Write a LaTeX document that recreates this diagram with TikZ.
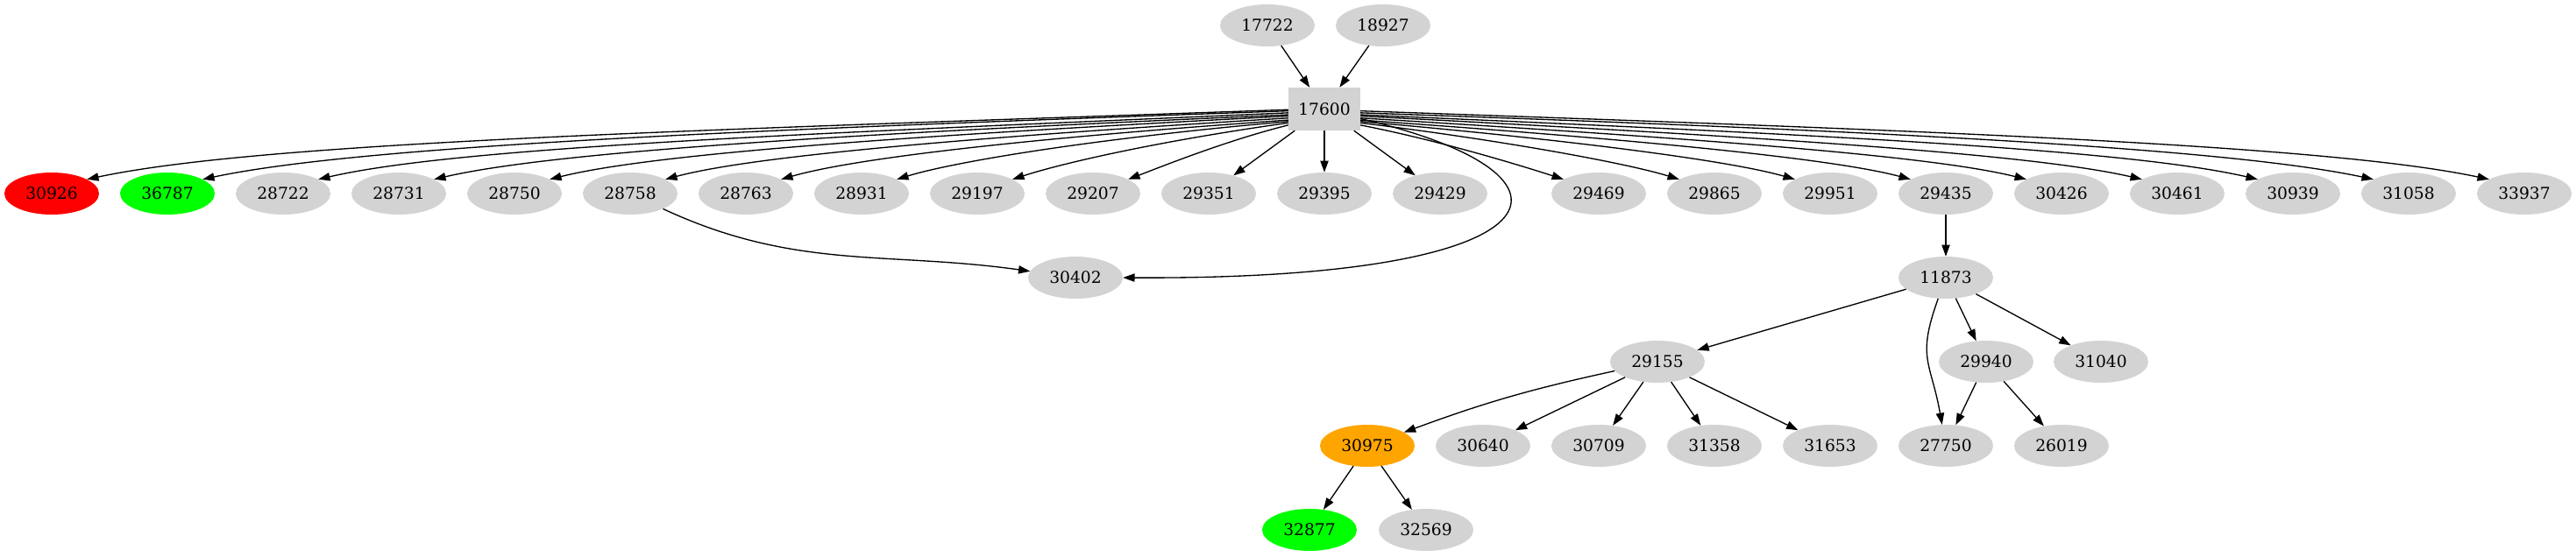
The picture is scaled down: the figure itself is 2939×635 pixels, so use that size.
\documentclass[tikz,border=0pt]{standalone}
\usepackage{fontspec}
\setmainfont{DejaVu Serif}
\usetikzlibrary{shapes.geometric,arrows.meta}
\definecolor{lgray}{HTML}{D3D3D3}
\definecolor{gvgreen}{HTML}{00FF00}
\definecolor{gvorange}{HTML}{FFA500}
\definecolor{gvred}{HTML}{FF0000}
\begin{document}
\begin{tikzpicture}[x=1pt,y=1pt,
  ell/.style={ellipse, fill=lgray, minimum width=108pt, minimum height=48pt, inner sep=0pt, font=\fontsize{18.7}{22}\selectfont},
  boxn/.style={rectangle, fill=lgray, minimum width=82pt, minimum height=49pt, inner sep=0pt, font=\fontsize{18.7}{22}\selectfont},
  conn/.style={line width=1.33pt, -{Triangle[length=13.3pt,width=9.3pt]}}]
\useasboundingbox (0,0) rectangle (2939,-635);
% rank 0
\node[ell] (n17722) at (1446,-29) {17722};
\node[ell] (n18927) at (1578,-29) {18927};
% rank 1
\node[boxn] (n17600) at (1511,-124.5) {17600};
% rank 2
\foreach \n/\x/\c in {30926/59/gvred, 36787/191/gvgreen, 28722/323/lgray, 28731/455/lgray,
  28750/587/lgray, 28758/719/lgray, 28763/851/lgray, 28931/983/lgray, 29197/1115/lgray,
  29207/1247/lgray, 29351/1379/lgray, 29395/1511/lgray, 29429/1643/lgray, 29469/1824/lgray,
  29865/1956/lgray, 29951/2088/lgray, 29435/2220/lgray, 30426/2352/lgray, 30461/2484/lgray,
  30939/2616/lgray, 31058/2748/lgray, 33937/2880/lgray}
  \node[ell, fill=\c] (n\n) at (\x,-221) {\n};
% rank 3
\node[ell] (n30402) at (1227,-317) {30402};
\node[ell] (n11873) at (2220,-317) {11873};
% rank 4
\node[ell] (n29155) at (1891,-413) {29155};
\node[ell] (n29940) at (2266,-413) {29940};
\node[ell] (n31040) at (2397,-413) {31040};
% rank 5
\node[ell, fill=gvorange] (n30975) at (1560,-509) {30975};
\node[ell] (n30640) at (1692,-509) {30640};
\node[ell] (n30709) at (1824,-509) {30709};
\node[ell] (n31358) at (1956,-509) {31358};
\node[ell] (n31653) at (2088,-509) {31653};
\node[ell] (n27750) at (2220,-509) {27750};
\node[ell] (n26019) at (2352,-509) {26019};
% rank 6
\node[ell, fill=gvgreen] (n32877) at (1494,-605) {32877};
\node[ell] (n32569) at (1627,-605) {32569};

% edges
\draw[conn] (n17722) -- (n17600);
\draw[conn] (n18927) -- (n17600);
% left fan
\foreach \n/\a/\d/\b/\la/\lb in {30926/181/2/12/685/205, 36787/183/2/12/620/185,
  28722/186/2.5/13/550/165, 28731/189/2.5/13/490/145, 28750/191/3/14/420/125,
  28758/194/3.5/15/355/105, 28763/197/4/16/290/90, 28931/199/5/17/220/70,
  29197/201/8/18/150/60, 29207/204/14/21/70/50}
  \draw[conn] (n17600.\a) .. controls +(180+\d:\la) and +(\b:\lb) .. (n\n.22);
\draw[conn] (n17600) -- (n29351);
\draw[conn] (n17600) -- (n29395);
\draw[conn] (n17600) -- (n29429);
% right fan
\foreach \n/\a/\d/\b/\la/\lb in {29469/336/11/18/90/50, 29865/339/7/17/160/65,
  29951/341/5/16/230/80, 29435/343/4/15/300/95, 30426/346/3.5/14/370/115,
  30461/349/3/13/440/135, 30939/351/2.5/13/510/155, 31058/354/2/12/580/175,
  33937/357/2/12/640/190}
  \draw[conn] (n17600.\a) .. controls +(-\d:\la) and +(180-\b:\lb) .. (n\n.158);
% to 30402
\draw[conn] (n17600.345) .. controls (1830,-200) and (1790,-320) .. (n30402.east);
\draw[conn] (n28758) to[out=-25,in=172] (n30402);
% lower part
\draw[conn] (n29435) -- (n11873);
\draw[conn] (n11873) -- (n29155);
\draw[conn] (n11873) -- (n29940);
\draw[conn] (n11873) -- (n31040);
\draw[conn] (n11873) to[out=-110,in=100,looseness=1.3] (n27750);
\draw[conn] (n29940) -- (n27750);
\draw[conn] (n29940) -- (n26019);
\draw[conn] (n29155) to[bend right=4] (n30975);
\draw[conn] (n29155) -- (n30640);
\draw[conn] (n29155) -- (n30709);
\draw[conn] (n29155) -- (n31358);
\draw[conn] (n29155) -- (n31653);
\draw[conn] (n30975) -- (n32877);
\draw[conn] (n30975) -- (n32569);
\end{tikzpicture}
\end{document}
